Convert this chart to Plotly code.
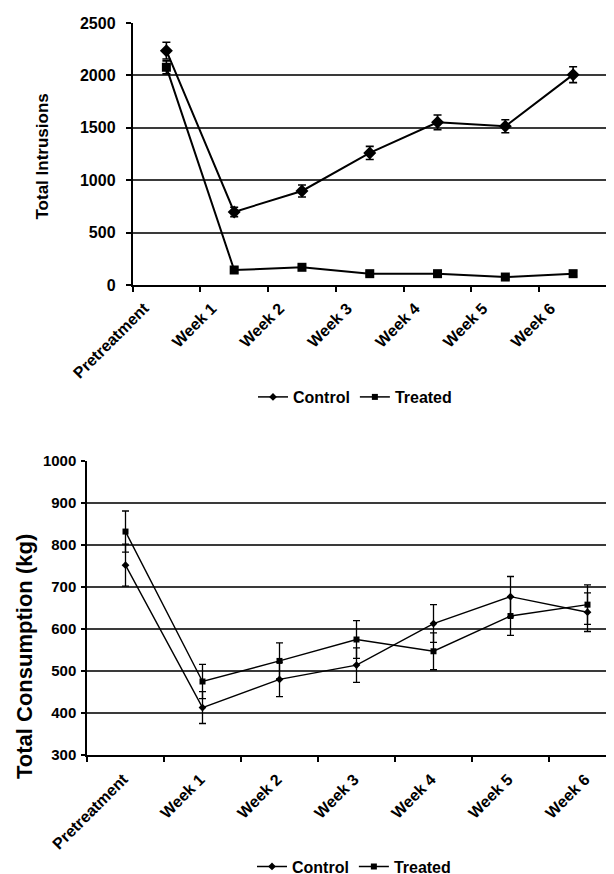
import plotly.graph_objects as go

categories = ["Pretreatment", "Week 1", "Week 2", "Week 3", "Week 4", "Week 5", "Week 6"]

# Top chart: Total Intrusions
intr_control = [2236, 697, 897, 1260, 1552, 1515, 2007]
intr_control_err = [80, 45, 57, 63, 70, 62, 76]
intr_treated = [2077, 143, 169, 108, 108, 76, 108]
intr_treated_err = [62, 25, 22, 20, 20, 20, 25]

# Bottom chart: Total Consumption (kg)
cons_control = [752, 413, 480, 514, 613, 677, 640]
cons_control_err = [50, 38, 41, 41, 45, 48, 46]
cons_treated = [832, 475, 524, 575, 547, 631, 658]
cons_treated_err = [49, 41, 43, 45, 44, 46, 47]

top_yticks = [0, 500, 1000, 1500, 2000, 2500]
bot_yticks = [300, 400, 500, 600, 700, 800, 900, 1000]

W, H = 614, 874
FONT = "Arial, Liberation Sans, sans-serif"

xi = list(range(len(categories)))
bounds = [i - 0.5 for i in range(len(categories) + 1)]

fig = go.Figure()

def add_series(x, y, err, name, symbol, size, lw, ew, cw, xa, ya, legend):
    fig.add_trace(go.Scatter(
        x=x, y=y, name=name, mode="lines+markers",
        line=dict(color="black", width=lw),
        marker=dict(symbol=symbol, size=size, color="black"),
        error_y=dict(type="data", array=err, visible=True, color="black",
                     thickness=ew, width=cw),
        xaxis=xa, yaxis=ya, legend=legend, showlegend=False,
    ))
    # legend entry with a small symbol, as in the original
    fig.add_trace(go.Scatter(
        x=[None], y=[None], name=name, mode="lines+markers",
        line=dict(color="black", width=1.5),
        marker=dict(symbol=symbol, size=6, color="black"),
        xaxis=xa, yaxis=ya, legend=legend, showlegend=True,
    ))

add_series(xi, intr_control, intr_control_err, "Control", "diamond", 10, 2, 1.6, 4, "x", "y", "legend")
add_series(xi, intr_treated, intr_treated_err, "Treated", "square", 9, 2, 1.6, 4, "x", "y", "legend")
add_series(xi, cons_control, cons_control_err, "Control", "diamond", 6, 1.4, 1.3, 3.5, "x2", "y2", "legend2")
add_series(xi, cons_treated, cons_treated_err, "Treated", "square", 6, 1.4, 1.3, 3.5, "x2", "y2", "legend2")

grid_col = "#3a3a3a"

top_lab_pos = [i - 0.33 for i in xi]
bot_lab_pos = [i - 0.03 for i in xi]

fig.update_layout(
    width=W, height=H,
    margin=dict(l=0, r=0, t=0, b=0, autoexpand=False),
    paper_bgcolor="white", plot_bgcolor="white",
    font=dict(family=FONT, color="black"),
    xaxis=dict(domain=[124.5 / W, 599 / W], range=[-0.5, 6.5],
               tickvals=top_lab_pos, ticktext=categories, tickangle=-45,
               ticks="", showgrid=False, zeroline=False, automargin=False,
               showline=True, linecolor="black", linewidth=1.5,
               tickfont=dict(size=16, family=FONT, weight="bold"),
               ticklabelstandoff=6,
               minor=dict(tickvals=bounds, ticks="outside", ticklen=5,
                          tickcolor="black", tickwidth=1.5, showgrid=False),
               anchor="y"),
    yaxis=dict(domain=[1 - 277 / H, 1 - 15 / H], range=[0, 2500],
               tickvals=top_yticks, ticks="outside", ticklen=5,
               tickcolor="black", tickwidth=1.5, automargin=False,
               showgrid=True, gridcolor=grid_col, gridwidth=1.6,
               zeroline=False, showline=True, linecolor="black", linewidth=1.5,
               tickfont=dict(size=16, family=FONT, weight="bold"),
               ticklabelstandoff=7, anchor="x"),
    xaxis2=dict(domain=[79 / W, 1.0], range=[-0.5, -0.5 + (614 - 79) / 77],
                tickvals=bot_lab_pos, ticktext=categories, tickangle=-45,
                ticks="", showgrid=False, zeroline=False, automargin=False,
                showline=True, linecolor="black", linewidth=1.5,
                tickfont=dict(size=16, family=FONT, weight="bold"),
                ticklabelstandoff=7,
                minor=dict(tickvals=bounds, ticks="outside", ticklen=5,
                           tickcolor="black", tickwidth=1.5, showgrid=False),
                anchor="y2"),
    yaxis2=dict(domain=[1 - 747 / H, 1 - 453 / H], range=[300, 1000],
                tickvals=bot_yticks, ticks="outside", ticklen=4,
                tickcolor="black", tickwidth=1.5, automargin=False,
                showgrid=True, gridcolor=grid_col, gridwidth=1.6,
                zeroline=False, showline=True, linecolor="black", linewidth=1.5,
                tickfont=dict(size=15, family=FONT, weight="bold"),
                ticklabelstandoff=2, anchor="x2"),
    legend=dict(orientation="h", x=347 / W, xanchor="center",
                y=1 - 389 / H, yanchor="middle",
                font=dict(size=16, family=FONT, color="black", weight="bold"),
                bgcolor="rgba(0,0,0,0)", itemwidth=30, tracegroupgap=0),
    legend2=dict(orientation="h", x=346 / W, xanchor="center",
                 y=1 - 858.5 / H, yanchor="middle",
                 font=dict(size=16, family=FONT, color="black", weight="bold"),
                 bgcolor="rgba(0,0,0,0)", itemwidth=30, tracegroupgap=0),
    annotations=[
        dict(text="<b>Total Intrusions</b>", xref="paper", yref="paper",
             x=34 / W, y=1 - 148.5 / H, textangle=-90, showarrow=False,
             xanchor="center", yanchor="middle",
             font=dict(size=17, family=FONT, color="black")),
        dict(text="<b>Total Consumption (kg)</b>", xref="paper", yref="paper",
             x=16 / W, y=1 - 649 / H, textangle=-90, showarrow=False,
             xanchor="center", yanchor="middle",
             font=dict(size=22, family=FONT, color="black")),
    ],
    showlegend=True,
)

fig.write_html("out.html")
